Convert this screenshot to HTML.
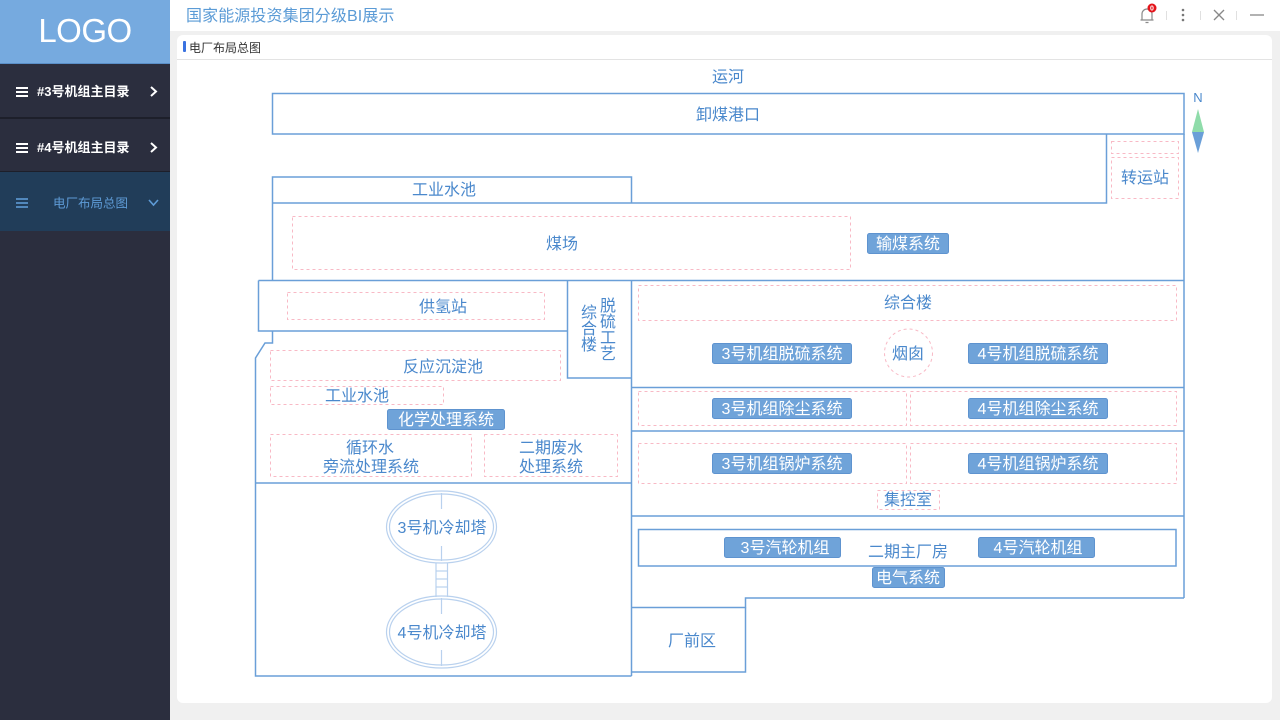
<!DOCTYPE html>
<html><head><meta charset="utf-8">
<style>
*{margin:0;padding:0;box-sizing:border-box}
body{width:1280px;height:720px;overflow:hidden;background:#f0f0f0;font-family:"Liberation Sans","Noto Sans CJK SC",sans-serif;position:relative}
.side{position:absolute;left:0;top:0;width:170px;height:720px;background:#2b2e3e}
.logo{position:absolute;left:0;top:0;width:170px;height:64px;background:#76aadf;border-bottom:1px solid #5a8fc8;color:#fff;font-size:33px;text-align:center;line-height:62px;letter-spacing:-0.5px}
.item{position:absolute;left:0;width:170px;color:#fff;font-size:13px;font-weight:bold}
.sep{position:absolute;left:0;width:170px;height:2px;background:#1d1f2a}
.hdr{position:absolute;left:170px;top:0;width:1110px;height:31px;background:#fff}
.title{position:absolute;left:186px;top:2px;font-size:16px;color:#5b9bd6;letter-spacing:0.1px}
.card{position:absolute;left:177px;top:35px;width:1095px;height:668px;background:#fff;border-radius:6px}
.chead{position:absolute;left:177px;top:59px;width:1095px;height:1px;background:#e3e3e3}
.ctitle{position:absolute;left:189px;top:39px;font-size:12px;color:#333}
.cbar{position:absolute;left:183px;top:41px;width:3px;height:11px;background:#3a72e0;border-radius:1px}
svg{position:absolute;left:0;top:0}
</style></head><body>
<div class="side">
  <div class="logo">LOGO</div>
  <div class="item" style="top:65px;height:52px;background:#2b2e3e"></div>
  <div class="sep" style="top:117px"></div>
  <div class="item" style="top:119px;height:52px;background:#2b2e3e"></div>
  <div class="sep" style="top:171px"></div>
  <div class="item" style="top:172px;height:59px;background:#213d59"></div>
</div>
<div class="hdr"></div>
<div class="title">国家能源投资集团分级BI展示</div>
<div class="card"></div>
<div class="chead"></div>
<div class="cbar"></div>
<div class="ctitle">电厂布局总图</div>

<svg width="1280" height="720" viewBox="0 0 1280 720" xmlns="http://www.w3.org/2000/svg" font-family="'Liberation Sans','Noto Sans CJK SC',sans-serif">
  <!-- sidebar items -->
  <g stroke="#fff" stroke-width="2">
    <line x1="16" y1="88" x2="28" y2="88"/><line x1="16" y1="92" x2="28" y2="92"/><line x1="16" y1="96" x2="28" y2="96"/>
    <line x1="16" y1="144" x2="28" y2="144"/><line x1="16" y1="148" x2="28" y2="148"/><line x1="16" y1="152" x2="28" y2="152"/>
  </g>
  <g stroke="#fff" stroke-width="2" fill="none">
    <polyline points="151,87 156,91.5 151,96"/>
    <polyline points="151,143 156,147.5 151,152"/>
  </g>
  <text x="37" y="96" font-size="13" font-weight="bold" fill="#fff">#3号机组主目录</text>
  <text x="37" y="152" font-size="13" font-weight="bold" fill="#fff">#4号机组主目录</text>
  <g stroke="#5e9bd6" stroke-width="1.6">
    <line x1="16" y1="199" x2="28" y2="199"/><line x1="16" y1="203" x2="28" y2="203"/><line x1="16" y1="207" x2="28" y2="207"/>
  </g>
  <polyline points="149,200 153.5,205 158,200" stroke="#5e9bd6" stroke-width="1.6" fill="none"/>
  <text x="53" y="207.5" font-size="12.5" fill="#5e9bd6">电厂布局总图</text>

  <!-- header icons -->
  <g stroke="#8a8a8a" stroke-width="1.2" fill="none">
    <path d="M1142,20 V14 a5,5 0 0 1 10,0 V20 H1142 Z M1140.5,20 H1153.5 M1145.5,22.5 H1148.5"/>
  </g>
  <circle cx="1152" cy="8" r="4.5" fill="#e4141b"/>
  <text x="1152" y="10.5" font-size="7" fill="#fff" text-anchor="middle" font-weight="bold">0</text>
  <g stroke="#e0e0e0" stroke-width="1">
    <line x1="1166.5" y1="11" x2="1166.5" y2="20"/>
    <line x1="1200.5" y1="11" x2="1200.5" y2="20"/>
    <line x1="1236.5" y1="11" x2="1236.5" y2="20"/>
  </g>
  <g fill="#777"><circle cx="1183" cy="10" r="1.3"/><circle cx="1183" cy="15" r="1.3"/><circle cx="1183" cy="20" r="1.3"/></g>
  <g stroke="#888" stroke-width="1.3">
    <line x1="1214" y1="10" x2="1224" y2="20"/><line x1="1224" y1="10" x2="1214" y2="20"/>
    <line x1="1250" y1="15" x2="1264" y2="15"/>
  </g>

  <!-- solid structure lines -->
  <g stroke="#6a9fd8" stroke-width="1.5" fill="none">
    <rect x="272.5" y="93.5" width="911.5" height="40.5"/>
    <path d="M272.5,203 V177 H631.5 V203"/>
    <path d="M272.5,203 H1106.5 V134"/>
    <path d="M1184,134 V598"/>
    <path d="M272.5,203 V280"/>
    <path d="M258.5,280.5 H1184"/>
    <path d="M258.5,280.5 V331 H567.5"/>
    <path d="M567.5,280.5 V378 H631.5"/>
    <path d="M631.5,280.5 V676"/>
    <path d="M272.5,331 V343 H265 L255.5,358 V676 H631.5"/>
    <path d="M255.5,483 H631.5"/>
    <path d="M631.5,387.5 H1184"/>
    <path d="M631.5,431 H1184"/>
    <path d="M631.5,516 H1184"/>
    <path d="M1184,598 H745.5 V607.5 H631.5"/>
    <path d="M745.5,607.5 V672 H631.5"/>
    <rect x="638.5" y="529.5" width="537.5" height="36.5"/>
  </g>

  <!-- dashed boxes -->
  <g stroke="#f8b9c5" stroke-width="1" fill="none" stroke-dasharray="3,3">
    <rect x="1111.5" y="141.5" width="67" height="12"/>
    <rect x="1111.5" y="157.5" width="67" height="41"/>
    <rect x="292.5" y="216.5" width="558" height="53"/>
    <rect x="287.5" y="292.5" width="257" height="27"/>
    <rect x="270.5" y="350.5" width="290" height="30"/>
    <rect x="270.5" y="386.5" width="173" height="18"/>
    <rect x="270.5" y="434.5" width="201" height="42"/>
    <rect x="484.5" y="434.5" width="133" height="42"/>
    <rect x="638.5" y="285.5" width="538" height="35"/>
    <circle cx="908.5" cy="353" r="24"/>
    <rect x="638.5" y="391.5" width="268" height="34"/>
    <rect x="910.5" y="391.5" width="266" height="34"/>
    <rect x="638.5" y="443.5" width="268" height="40"/>
    <rect x="910.5" y="443.5" width="266" height="40"/>
    <rect x="877.5" y="490.5" width="62" height="19"/>
  </g>

  <!-- cooling towers -->
  <g stroke="#b9d1ee" stroke-width="1.2" fill="none">
    <ellipse cx="441.5" cy="527" rx="55" ry="36"/>
    <ellipse cx="441.5" cy="527" rx="52" ry="33"/>
    <line x1="441.5" y1="493" x2="441.5" y2="509"/>
    <line x1="441.5" y1="546" x2="441.5" y2="561"/>
    <ellipse cx="441.5" cy="632" rx="55" ry="36"/>
    <ellipse cx="441.5" cy="632" rx="52" ry="33"/>
    <line x1="441.5" y1="598" x2="441.5" y2="614"/>
    <line x1="441.5" y1="650" x2="441.5" y2="666"/>
    <line x1="436" y1="563" x2="436" y2="597"/>
    <line x1="447.5" y1="563" x2="447.5" y2="597"/>
    <line x1="436" y1="571" x2="447.5" y2="571"/>
    <line x1="436" y1="579" x2="447.5" y2="579"/>
    <line x1="436" y1="587" x2="447.5" y2="587"/>
  </g>

  <!-- north arrow -->
  <text x="1198" y="102" font-size="13" fill="#4a88cc" text-anchor="middle">N</text>
  <polygon points="1198,109 1204,132 1192,132" fill="#8fdcaa"/>
  <polygon points="1192,132 1204,132 1198,153" fill="#6a9fd8"/>

  <!-- badges -->
  <g fill="#6fa3d9" stroke="#5e93cf" stroke-width="1">
    <rect x="867.5" y="233.5" width="81" height="20" rx="2"/>
    <rect x="387.5" y="409.5" width="117" height="20" rx="2"/>
    <rect x="712.5" y="343.5" width="139" height="20" rx="2"/>
    <rect x="968.5" y="343.5" width="139" height="20" rx="2"/>
    <rect x="712.5" y="398.5" width="139" height="20" rx="2"/>
    <rect x="968.5" y="398.5" width="139" height="20" rx="2"/>
    <rect x="712.5" y="453.5" width="139" height="20" rx="2"/>
    <rect x="968.5" y="453.5" width="139" height="20" rx="2"/>
    <rect x="724.5" y="537.5" width="116" height="20" rx="2"/>
    <rect x="978.5" y="537.5" width="116" height="20" rx="2"/>
    <rect x="872.5" y="567.5" width="72" height="20" rx="2"/>
  </g>
  <g fill="#fff" font-size="16" text-anchor="middle">
    <text x="908" y="249">输煤系统</text>
    <text x="446" y="425">化学处理系统</text>
    <text x="782" y="359">3号机组脱硫系统</text>
    <text x="1038" y="359">4号机组脱硫系统</text>
    <text x="782" y="414">3号机组除尘系统</text>
    <text x="1038" y="414">4号机组除尘系统</text>
    <text x="782" y="469">3号机组锅炉系统</text>
    <text x="1038" y="469">4号机组锅炉系统</text>
    <text x="785" y="553">3号汽轮机组</text>
    <text x="1038" y="553">4号汽轮机组</text>
    <text x="908" y="583">电气系统</text>
  </g>

  <!-- labels -->
  <g fill="#4a88cc" font-size="16" text-anchor="middle">
    <text x="728" y="82">运河</text>
    <text x="728" y="120">卸煤港口</text>
    <text x="444" y="195">工业水池</text>
    <text x="562" y="249">煤场</text>
    <text x="1145" y="183">转运站</text>
    <text x="443" y="312">供氢站</text>
    <text x="608" y="311">脱</text>
    <text x="608" y="327">硫</text>
    <text x="608" y="343">工</text>
    <text x="608" y="359">艺</text>
    <text x="589" y="318">综</text>
    <text x="589" y="334">合</text>
    <text x="589" y="350">楼</text>
    <text x="443" y="372">反应沉淀池</text>
    <text x="357" y="401">工业水池</text>
    <text x="370" y="453">循环水</text>
    <text x="371" y="472">旁流处理系统</text>
    <text x="551" y="453">二期废水</text>
    <text x="551" y="472">处理系统</text>
    <text x="908" y="308">综合楼</text>
    <text x="908" y="359">烟囱</text>
    <text x="908" y="505">集控室</text>
    <text x="908" y="557">二期主厂房</text>
    <text x="692" y="646">厂前区</text>
    <text x="442" y="533">3号机冷却塔</text>
    <text x="442" y="638">4号机冷却塔</text>
  </g>
</svg>
</body></html>
